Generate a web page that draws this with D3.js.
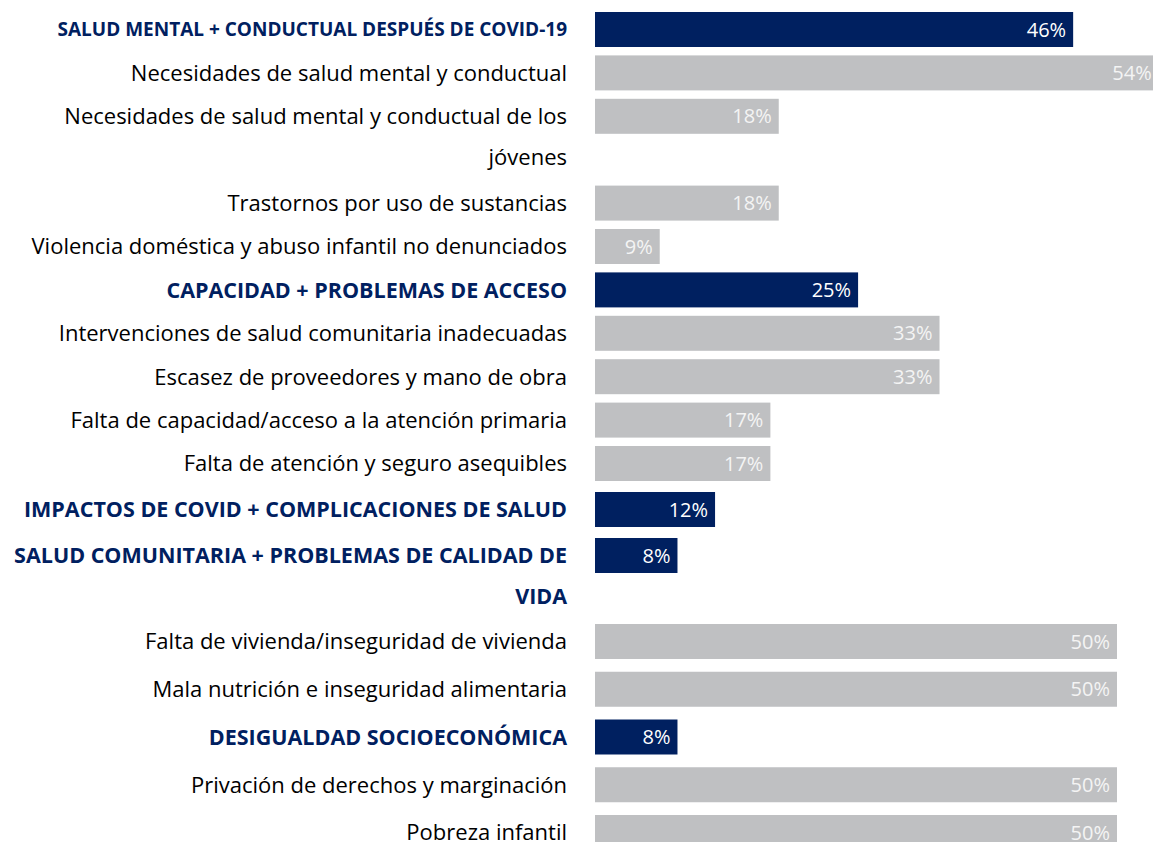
<!DOCTYPE html>
<html>
<head>
<meta charset="utf-8">
<script src="https://cdn.jsdelivr.net/npm/d3@7"></script>
<style>
  body { margin: 0; background: #fff; overflow: hidden; }
</style>
</head>
<body>
<div id="chart-area"></div>
<script>
// chart data
let categories = [
  "SALUD MENTAL + CONDUCTUAL DESPUÉS DE COVID-19",
  "Necesidades de salud mental y conductual",
  "Necesidades de salud mental y conductual de los\njóvenes",
  "Trastornos por uso de sustancias",
  "Violencia doméstica y abuso infantil no denunciados",
  "CAPACIDAD + PROBLEMAS DE ACCESO",
  "Intervenciones de salud comunitaria inadecuadas",
  "Escasez de proveedores y mano de obra",
  "Falta de capacidad/acceso a la atención primaria",
  "Falta de atención y seguro asequibles",
  "IMPACTOS DE COVID + COMPLICACIONES DE SALUD",
  "SALUD COMUNITARIA + PROBLEMAS DE CALIDAD DE\nVIDA",
  "Falta de vivienda/inseguridad de vivienda",
  "Mala nutrición e inseguridad alimentaria",
  "DESIGUALDAD SOCIOECONÓMICA",
  "Privación de derechos y marginación",
  "Pobreza infantil"
];
let isGroup = [true, false, false, false, false, true, false, false, false, false,
               true, true, false, false, true, false, false];
// bar lengths (percent) as drawn
let values = [45.8, 54, 17.6, 17.6, 6.2, 25.2, 33, 33, 16.8, 16.8, 11.5, 7.9, 50, 50, 7.9, 50, 50];
// printed value labels
let valueLabels = ["46%", "54%", "18%", "18%", "9%", "25%", "33%", "33%", "17%", "17%",
                   "12%", "8%", "50%", "50%", "8%", "50%", "50%"];

let width = 1153, height = 842;
let darkBlue = "#002060", grey = "#bfc0c2";

let svg = d3.select("#chart-area").append("svg")
    .attr("width", width)
    .attr("height", height);

// each row takes as many units as it has text lines
let rows = categories.map((c, i) => ({
  lines: c.split("\n"),
  group: isGroup[i],
  value: values[i],
  label: valueLabels[i],
  first: i === 0
}));
let u = 0;
rows.forEach(r => { r.unit = u; u += r.lines.length; });

// Scales
let x = d3.scaleLinear()
    .domain([0, 50])
    .range([595, 1117]);

// row spacing is a bit looser in the lower part of the chart
let y = d3.scaleLinear()
    .domain([0, 10, 12, 14, 18])
    .range([12, 446, 538, 624, 815]);

let barH = 35;

let row = svg.selectAll("g.row")
    .data(rows)
    .enter().append("g")
    .attr("class", "row")
    .attr("transform", d => "translate(0," + y(d.unit) + ")");

row.append("rect")
    .attr("x", x(0))
    .attr("y", 0)
    .attr("width", d => x(d.value) - x(0))
    .attr("height", barH)
    .attr("fill", d => d.group ? darkBlue : grey);

row.append("text")
    .attr("x", d => x(d.value) - 7)
    .attr("y", barH / 2)
    .attr("dy", "0.36em")
    .attr("text-anchor", "end")
    .style("font-family", "'Open Sans', sans-serif")
    .style("font-size", "20px")
    .attr("fill", d => d.group ? "#ffffff" : "#f4f4f4")
    .text(d => d.label);

let lab = row.append("text")
    .attr("text-anchor", "end")
    .style("font-family", "'Open Sans', sans-serif")
    .style("font-size", d => d.group ? (d.first ? "19px" : "21.5px") : "22px")
    .style("font-weight", d => d.group ? "bold" : "normal")
    .attr("fill", d => d.group ? darkBlue : "#000000");

lab.selectAll("tspan")
    .data(d => d.lines)
    .enter().append("tspan")
    .attr("x", 567)
    .attr("y", (d, i) => barH / 2 + i * 41)
    .attr("dy", "0.36em")
    .text(d => d);
</script>
</body>
</html>
